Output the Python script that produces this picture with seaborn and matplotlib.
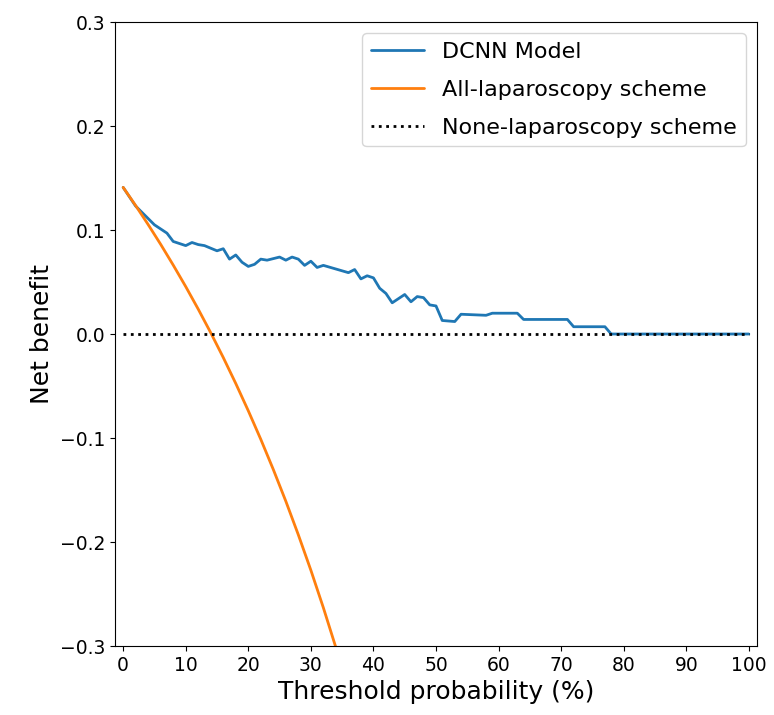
import matplotlib
matplotlib.use("Agg")
import matplotlib.pyplot as plt
import seaborn as sns
import pandas as pd

sns.set_style("ticks", {"text.color": "black", "axes.labelcolor": "black",
                        "xtick.color": "black", "ytick.color": "black",
                        "axes.edgecolor": "black"})
plt.rcParams['font.family'] = ['DejaVu Sans']

# DCNN model net benefit (threshold %, net benefit)
dcnn_x = [0, 2, 5, 7, 8, 10, 11, 12, 13, 15, 16, 17, 18, 19, 20, 21, 22, 23, 25, 26,
          27, 28, 29, 30, 31, 32, 36, 37, 38, 39, 40, 41, 42, 43, 45, 46, 47, 48, 49,
          50, 51, 53, 54, 58, 59, 63, 64, 71, 72, 77, 78, 100]
dcnn_y = [0.141, 0.123, 0.105, 0.097, 0.089, 0.085, 0.088, 0.086, 0.085, 0.080, 0.082,
          0.072, 0.076, 0.069, 0.065, 0.067, 0.072, 0.071, 0.074, 0.071, 0.074, 0.072,
          0.066, 0.070, 0.064, 0.066, 0.059, 0.062, 0.053, 0.056, 0.054, 0.044, 0.039,
          0.030, 0.038, 0.031, 0.036, 0.035, 0.028, 0.027, 0.013, 0.012, 0.019, 0.018,
          0.020, 0.020, 0.014, 0.014, 0.007, 0.007, 0.000, 0.000]

# All-laparoscopy scheme
all_x = [0, 2, 4, 6, 8, 10, 12, 14, 16, 18, 20, 22, 24, 26, 28, 30, 32, 34, 36]
all_y = [0.141, 0.1235, 0.1052, 0.0862, 0.0663, 0.0456, 0.0239, 0.0012, -0.0226,
         -0.0476, -0.0738, -0.1013, -0.1303, -0.1608, -0.1931, -0.2271, -0.2632,
         -0.3015, -0.342]

# None-laparoscopy scheme
none_x = [0, 100]
none_y = [0.0, 0.0]

series_labels = ["DCNN Model", "All-laparoscopy scheme", "None-laparoscopy scheme"]

fig = plt.figure(figsize=(7.74, 7.15), dpi=100)
ax = fig.add_axes([0.1486, 0.0965, 0.8294, 0.8727])

df_dcnn = pd.DataFrame({"x": dcnn_x, "y": dcnn_y})
df_all = pd.DataFrame({"x": all_x, "y": all_y})
df_none = pd.DataFrame({"x": none_x, "y": none_y})

sns.lineplot(data=df_dcnn, x="x", y="y", ax=ax, color="#1f77b4", lw=2,
             label=series_labels[0], estimator=None, sort=False)
sns.lineplot(data=df_all, x="x", y="y", ax=ax, color="#ff7f0e", lw=2,
             label=series_labels[1], estimator=None, sort=False)
sns.lineplot(data=df_none, x="x", y="y", ax=ax, color="black", lw=2,
             linestyle=":", label=series_labels[2], estimator=None, sort=False)

ax.set_xlim(-1.3, 101.3)
ax.set_ylim(-0.3, 0.3)
ax.set_xticks(range(0, 101, 10))
ax.set_yticks([-0.3, -0.2, -0.1, 0.0, 0.1, 0.2, 0.3])
ax.tick_params(labelsize=13.5, colors="black")
ax.set_xlabel("Threshold probability (%)", fontsize=18)
ax.set_ylabel("Net benefit", fontsize=18)
for s in ax.spines.values():
    s.set_visible(True)
ax.legend(loc="upper right", fontsize=16, labelspacing=0.8, handlelength=2.4)

fig.savefig("out.png", dpi=100)
